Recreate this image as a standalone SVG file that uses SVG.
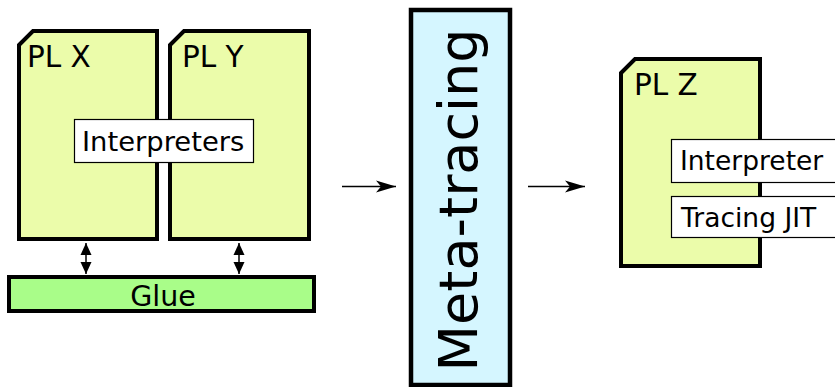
<svg xmlns="http://www.w3.org/2000/svg" width="835" height="387" viewBox="0 0 835 387">
  <style>
    .pl { fill: #ebfcaa; stroke: #000; stroke-width: 4; }
    .lbl { fill: #fff; stroke: #000; stroke-width: 1.2; }
    .t { font-family: "DejaVu Sans", "Liberation Sans", sans-serif; fill: #000; }
    .conn { stroke: #000; stroke-width: 1.5; fill: none; }
  </style>
  <defs>
    <marker id="stealth" markerUnits="userSpaceOnUse" markerWidth="24" markerHeight="14" refX="20" refY="7" orient="auto" overflow="visible">
      <path d="M20,7 L0,1 L5,7 L0,13 Z" fill="#000"/>
    </marker>
    <marker id="tri" markerUnits="userSpaceOnUse" markerWidth="12" markerHeight="14" refX="12" refY="6" orient="auto-start-reverse" overflow="visible">
      <path d="M12,6 L0,0.5 L0,11.5 Z" fill="#000"/>
    </marker>
  </defs>

  <g id="plx">
    <path class="pl" d="M19,45 L33,31 L157,31 L157,239 L19,239 Z"/>
    <text class="t" x="27" y="67" font-size="29.5">PL X</text>
  </g>
  <g id="ply">
    <path class="pl" d="M170,45 L184,31 L309,31 L309,239 L170,239 Z"/>
    <text class="t" x="182" y="67" font-size="29.5">PL Y</text>
  </g>
  <g id="interpreters">
    <rect class="lbl" x="74.5" y="119.5" width="179" height="43"/>
    <text class="t" x="82" y="151" font-size="27.4">Interpreters</text>
  </g>
  <g id="glue">
    <rect x="9" y="277" width="305" height="34" fill="#a9fd89" stroke="#000" stroke-width="4"/>
    <text class="t" x="163" y="306" font-size="28.5" text-anchor="middle">Glue</text>
  </g>
  <g id="metatracing">
    <rect x="411" y="10" width="99" height="375" fill="#d5f6ff" stroke="#000" stroke-width="4.5"/>
    <text class="t" transform="translate(477,200) rotate(-90)" font-size="54" text-anchor="middle">Meta-tracing</text>
  </g>
  <g id="plz">
    <path class="pl" d="M621,73 L635,59 L760,59 L760,266 L621,266 Z"/>
    <text class="t" x="634" y="95" font-size="29.5">PL Z</text>
  </g>
  <g id="interpreter">
    <rect class="lbl" x="671.5" y="139.5" width="180" height="43"/>
    <text class="t" x="680" y="170" font-size="26.5">Interpreter</text>
  </g>
  <g id="tracingjit">
    <rect class="lbl" x="671.5" y="196.5" width="180" height="41"/>
    <text class="t" x="681" y="227" font-size="26.5">Tracing JIT</text>
  </g>

  <g id="connectors">
    <line class="conn" x1="86" y1="243" x2="86" y2="274" stroke-width="1.2" marker-start="url(#tri)" marker-end="url(#tri)"/>
    <line class="conn" x1="239" y1="243" x2="239" y2="274" stroke-width="1.2" marker-start="url(#tri)" marker-end="url(#tri)"/>
    <line class="conn" x1="342" y1="186.5" x2="396" y2="186.5" marker-end="url(#stealth)"/>
    <line class="conn" x1="528" y1="186.5" x2="585" y2="186.5" marker-end="url(#stealth)"/>
  </g>
</svg>
